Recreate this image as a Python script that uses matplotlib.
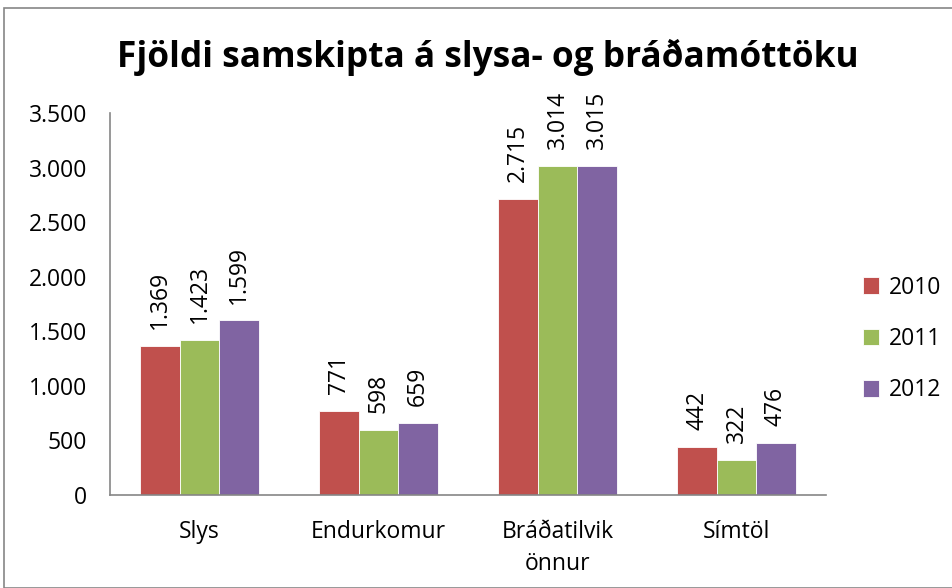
import matplotlib
matplotlib.use("Agg")
from matplotlib import pyplot as plt
from matplotlib.patches import Rectangle
import numpy as np

categories = ["Slys", "Endurkomur", "Bráðatilvik\nönnur", "Símtöl"]
years = ["2010", "2011", "2012"]
values_2010 = [1369, 771, 2715, 442]
values_2011 = [1423, 598, 3014, 322]
values_2012 = [1599, 659, 3015, 476]
series = [values_2010, values_2011, values_2012]
colours = ["#C0504D", "#9BBB59", "#8064A2"]

plt.rcParams['font.family'] = ['Open Sans', 'DejaVu Sans']
font_size = 16.5

def fmt(v):
    return f"{v:,}".replace(",", ".")

fig = plt.figure(figsize=(9.53, 5.88), dpi=100)
ax = fig.add_axes([110 / 953, 1 - 495 / 588, 716 / 953, (495 - 113) / 588])

# Outer chart border
fig.patches.append(Rectangle((4 / 953, 0), 1, 1 - 8 / 588, transform=fig.transFigure,
                             fill=False, edgecolor='#868686', linewidth=1.2))

x = np.arange(len(categories))
width = 0.22
for i, (vals, col, yr) in enumerate(zip(series, colours, years)):
    pos = x + (i - 1) * width
    bars = ax.bar(pos, vals, width, color=col, edgecolor='white', linewidth=0.6, label=yr)
    for b, v in zip(bars, vals):
        ax.annotate(fmt(v), (b.get_x() + b.get_width() / 2, v), xytext=(0, 12),
                    textcoords='offset points', rotation=90, ha='center', va='bottom',
                    fontsize=font_size)

ax.set_xlim(-0.5, len(categories) - 0.5)
ax.set_ylim(0, 3500)
ax.set_yticks(range(0, 3501, 500))
ax.set_yticklabels([fmt(v) for v in range(0, 3501, 500)], fontsize=font_size)
ax.set_xticks(x)
ax.set_xticklabels(categories, fontsize=font_size, linespacing=1.45)
ax.tick_params(length=0)
ax.tick_params(axis='y', pad=16.5)
ax.tick_params(axis='x', pad=18)
for s in ['top', 'right']:
    ax.spines[s].set_visible(False)
for s in ['left', 'bottom']:
    ax.spines[s].set_color('#868686')
    ax.spines[s].set_linewidth(1.2)

fig.text(488 / 953, 1 - 57 / 588, "Fjöldi samskipta á slysa- og bráðamóttöku",
         ha='center', va='center', fontsize=25.4, fontweight='bold')

ax.legend(loc='center left', bbox_to_anchor=(863 / 953, 1 - 339 / 588),
          bbox_transform=fig.transFigure, frameon=False, fontsize=font_size,
          borderpad=0, borderaxespad=0,
          handlelength=0.7, handleheight=0.7, labelspacing=1.2, handletextpad=0.45)

fig.savefig("out.png", dpi=100)
